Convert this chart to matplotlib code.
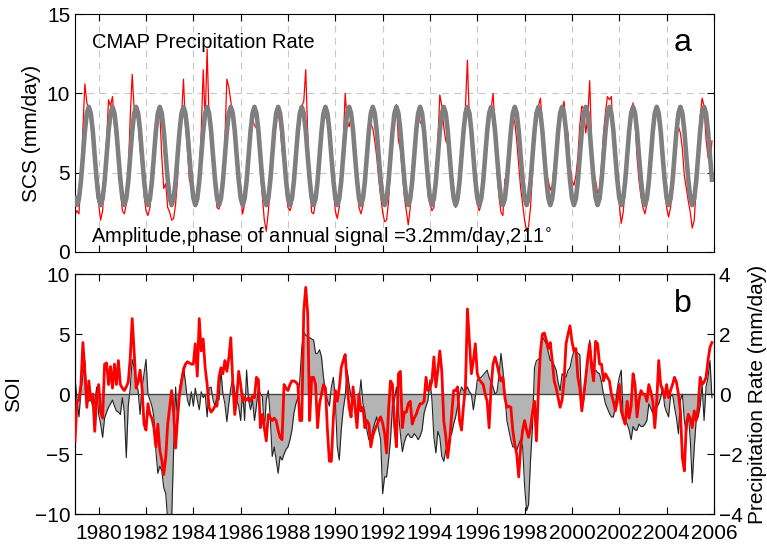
import numpy as np
import matplotlib
matplotlib.use("Agg")
import matplotlib.pyplot as plt

plt.rcParams['font.family'] = ['Liberation Sans', 'DejaVu Sans']

start_year = 1979
years = list(range(1979, 2006))

# SCS CMAP precipitation (mm/day), one row per year, Jan..Dec
precip = [
    [2.3, 2.6, 2.4, 4.5, 7.8, 10.6, 9.4, 9.0, 8.4, 7.2, 5.5, 3.6],    # 1979
    [3.0, 2.0, 2.6, 4.8, 7.0, 9.6, 9.2, 9.8, 8.0, 6.8, 6.6, 4.0],     # 1980
    [2.6, 2.4, 3.0, 5.0, 8.5, 11.2, 9.0, 8.8, 8.2, 6.5, 5.2, 3.6],    # 1981
    [2.6, 2.3, 2.8, 4.2, 6.5, 7.3, 8.4, 8.8, 6.0, 4.0, 4.3, 2.8],     # 1982
    [2.5, 2.0, 2.1, 3.0, 4.6, 7.6, 8.5, 10.9, 8.0, 6.5, 4.5, 4.3],    # 1983
    [3.8, 3.0, 3.2, 5.0, 7.5, 11.5, 8.3, 12.8, 8.2, 8.0, 6.0, 4.2],   # 1984
    [2.8, 2.7, 3.2, 4.5, 7.0, 10.9, 10.4, 9.5, 8.5, 7.6, 5.5, 4.5],   # 1985
    [3.5, 2.4, 3.0, 4.5, 6.0, 7.8, 8.3, 8.0, 7.8, 7.5, 5.0, 3.5],     # 1986
    [2.0, 1.3, 2.5, 4.0, 5.0, 7.7, 8.5, 8.8, 8.0, 6.4, 5.6, 3.8],     # 1987
    [2.8, 2.6, 3.0, 4.5, 6.5, 7.3, 8.2, 9.2, 9.5, 11.5, 7.5, 4.5],    # 1988
    [2.5, 2.4, 3.2, 4.8, 6.5, 7.5, 8.3, 8.5, 9.0, 7.5, 6.0, 4.0],     # 1989
    [2.6, 2.1, 2.8, 4.5, 6.8, 10.0, 8.3, 7.9, 8.5, 7.0, 5.5, 4.0],    # 1990
    [2.8, 2.4, 2.9, 4.0, 5.8, 7.0, 8.1, 7.8, 7.0, 6.0, 4.6, 3.5],     # 1991
    [2.5, 1.9, 2.0, 3.2, 5.5, 8.1, 9.0, 9.3, 7.0, 6.5, 5.0, 3.5],     # 1992
    [2.6, 1.7, 2.8, 4.2, 6.0, 7.5, 8.8, 8.2, 8.0, 7.0, 5.2, 3.6],     # 1993
    [3.0, 2.6, 2.8, 4.5, 7.0, 9.9, 9.2, 7.9, 7.0, 6.8, 5.3, 3.8],     # 1994
    [3.2, 2.8, 3.0, 4.2, 6.5, 8.0, 9.2, 12.1, 8.2, 7.0, 5.5, 3.8],    # 1995
    [3.0, 2.6, 3.0, 4.4, 6.2, 7.5, 8.5, 9.0, 10.0, 7.9, 5.0, 3.5],    # 1996
    [2.5, 2.3, 4.6, 4.0, 6.0, 7.5, 8.6, 8.2, 7.0, 5.5, 4.0, 3.0],     # 1997
    [2.0, 1.3, 1.6, 2.8, 5.0, 7.0, 8.0, 9.2, 9.7, 8.2, 7.0, 5.0],     # 1998
    [4.5, 3.9, 4.2, 5.5, 6.5, 7.5, 8.5, 9.0, 9.5, 7.9, 7.5, 5.5],     # 1999
    [4.5, 4.2, 4.8, 6.0, 8.0, 9.2, 9.0, 7.5, 8.5, 10.8, 6.8, 5.0],    # 2000
    [4.5, 3.7, 4.0, 5.5, 7.5, 8.8, 9.8, 9.6, 9.8, 7.0, 6.0, 4.5],     # 2001
    [3.0, 1.8, 2.5, 4.0, 6.5, 8.0, 8.8, 9.4, 8.2, 6.0, 4.5, 3.5],     # 2002
    [2.8, 2.4, 3.0, 4.5, 6.5, 7.8, 8.5, 8.7, 8.2, 7.0, 5.5, 4.0],     # 2003
    [2.8, 2.2, 2.8, 4.0, 6.0, 7.3, 7.9, 7.5, 6.5, 4.8, 4.0, 3.2],     # 2004
    [2.5, 1.5, 2.0, 4.0, 6.5, 8.5, 9.7, 9.2, 7.1, 6.0, 5.5, 7.0],     # 2005
]

# annual signal (mm/day), Jan..Dec, repeated every year
annual_signal = [3.4, 2.95, 3.35, 4.45, 6.0, 7.6, 8.75, 9.15, 8.75, 7.65, 6.05, 4.55]

# SOI, one row per year, Jan..Dec
soi = [
    [1.4, -0.5, -1.9, 0.2, 1.5, 2.8, -0.5, -0.6, -0.3, -1.1, -0.6, 0.6],
    [-1.7, -2.5, -3.6, -2.0, -1.5, -1.1, -0.8, -0.5, -1.0, -1.4, -1.5, -1.7],
    [-0.3, -1.5, -5.3, -1.0, 0.5, 2.9, 2.2, 1.0, 0.3, -1.7, 0.5, 1.7],
    [2.9, 0.0, -0.5, -1.0, -1.9, -4.7, -6.6, -6.0, -6.4, -7.8, -8.3, -10.5],
    [-10.5, -10.5, -4.7, 0.6, -2.4, 0.5, 1.4, 2.3, 1.0, -0.5, -1.0, 0.2],
    [-1.0, 0.5, -0.5, -1.3, 0.2, -0.3, 0.0, -1.9, 0.5, 0.6, -0.5, -1.0],
    [-0.2, -0.5, 2.0, 0.0, -0.8, -2.3, -0.8, 0.5, 1.3, 0.2, -0.5, -1.0],
    [-2.2, 0.2, -2.2, 2.0, -0.5, -1.3, -0.5, -2.2, -1.0, 0.6, 0.0, -0.2],
    [-3.0, -0.5, 0.3, -1.9, -5.2, -4.4, -5.5, -6.6, -5.2, -5.5, -5.0, -4.6],
    [-4.4, -3.8, -3.0, -1.6, -0.8, -0.3, 1.2, 3.9, 5.2, 4.9, 4.8, 4.7],
    [4.6, 4.5, 3.4, 3.4, 3.7, 3.1, 1.4, 0.2, -0.5, -1.0, 0.6, 1.4],
    [-0.5, -4.4, -5.5, -3.0, -1.3, -0.2, 2.0, 0.8, -0.3, -0.5, -0.8, -1.9],
    [-0.5, 1.2, -0.8, -1.5, -3.0, -3.8, -3.8, -3.0, -2.4, -1.9, -3.0, -3.8],
    [-8.3, -6.9, -6.9, -5.5, -3.8, -1.0, -0.5, 0.6, -1.5, -3.3, -4.8, -4.0],
    [-3.5, -3.3, -3.6, -3.6, -3.3, -3.5, -3.8, -3.5, -3.0, -1.6, -1.0, -0.5],
    [1.2, -0.5, -3.6, -4.9, -3.1, -3.6, -5.2, -5.6, -4.7, -4.2, -3.6, -3.3],
    [-2.5, -1.9, -1.0, 0.0, 0.6, 0.3, 0.3, 0.6, 0.2, 0.0, -1.3, -0.2],
    [1.2, 1.3, 1.4, 1.6, 1.8, 2.0, 1.4, 1.0, 0.6, 0.0, 0.2, 1.5],
    [3.4, 2.0, 0.0, -2.2, -3.0, -3.8, -4.4, -4.4, -4.7, -4.2, -3.8, -4.4],
    [-7.7, -9.7, -9.2, -5.5, -2.7, 2.2, 2.8, 2.9, 3.1, 4.8, 4.5, 4.2],
    [3.5, 2.8, 2.8, 2.4, 2.0, 1.0, 0.3, 1.7, 1.5, 1.4, 2.0, 2.2],
    [3.0, 3.6, 3.6, 3.4, 3.3, -1.3, -0.5, 1.0, 2.8, 4.5, 2.8, 2.0],
    [2.0, 1.8, 1.7, 1.0, 0.0, -0.8, -1.2, -1.6, -1.9, -1.9, -1.1, 0.5],
    [1.4, 2.0, -1.9, -2.2, -2.5, -3.0, -3.8, -2.7, -3.0, -3.0, -2.5, -2.7],
    [-2.7, -2.5, -2.2, -0.8, -1.2, -1.6, -1.1, -1.1, -0.8, -0.3, 0.6, -1.0],
    [-1.5, -1.9, -0.2, 0.0, -1.1, -2.0, -3.3, -0.5, 0.0, -2.2, -3.3, -1.6],
    [-3.8, -7.4, -4.5, -2.2, -1.9, -1.0, 0.8, -2.2, 0.6, 1.4, 2.8, -0.3],
]

# precipitation anomaly (mm/day), one row per year, Jan..Dec
precip_anom = [
    [-1.56, -0.24, -0.2, 0.32, 1.72, 0.76, -0.44, 0.44, -0.2, 0.0, -1.24, -0.12],
    [0.32, -0.6, -0.8, 1.0, 1.04, 0.32, 0.92, 0.2, 1.0, 0.32, 1.12, 0.32],
    [0.2, 0.12, 0.24, 0.4, 1.2, 2.52, 1.4, 0.2, 0.4, 0.8, 0.2, -1.0],
    [-1.2, -0.32, -0.68, -0.8, -1.12, -1.76, -1.0, -1.88, -2.2, -2.68, -2.12, -1.0],
    [-0.44, 0.12, -0.6, -1.8, -0.8, 0.0, 0.4, 0.8, 1.0, 1.08, 1.04, 1.0],
    [1.0, 1.68, 0.6, 2.52, 1.44, 1.84, 0.88, 0.32, -0.44, -0.6, -0.52, -0.4],
    [-0.4, 0.56, 0.88, 0.68, 1.12, 0.76, 1.2, 1.88, 0.4, -0.68, -0.12, 0.76],
    [0.32, -0.24, -0.12, -0.2, -0.12, -0.24, -0.08, -0.12, 0.56, 0.48, -1.12, -0.68],
    [-1.12, -1.56, -0.68, -0.8, -0.88, -0.8, -0.88, -1.2, -1.44, -1.52, 0.32, 0.2],
    [0.12, 0.32, 0.44, 0.44, 0.4, 0.32, -0.88, -0.88, 2.76, 3.56, 2.68, -0.88],
    [0.56, 0.56, 0.32, -1.12, -0.32, 0.0, 0.32, 0.2, -1.2, -2.24, -2.24, -0.8],
    [0.12, -0.24, 0.2, 0.88, 1.12, 1.32, 0.32, -0.44, -0.76, 0.24, -0.44, -1.12],
    [0.0, -0.56, -0.44, -1.12, -0.88, -1.0, -1.76, -1.4, -1.2, -1.04, -0.88, -0.76],
    [-0.96, -1.32, -1.96, -0.52, 0.44, 0.32, -1.0, -1.76, 0.68, 0.76, -1.12, -0.6],
    [-0.6, -0.32, -0.24, -1.0, -0.8, -0.68, -0.48, -0.32, -0.32, -0.24, 0.56, 0.12],
    [0.2, 0.44, 1.24, 0.24, 0.8, 1.44, 0.76, -0.88, -1.4, -2.12, -1.56, -0.68],
    [0.12, 0.12, 0.24, -0.88, -1.2, -0.4, 0.24, 2.84, 1.76, 0.68, 1.12, 1.68],
    [0.68, 0.48, 0.4, 0.32, 0.0, -0.24, -1.12, 0.24, 1.0, 1.24, 1.0, 0.68],
    [0.44, 0.56, -0.12, -0.44, -0.4, -0.44, -1.2, -1.68, -2.0, -2.76, -1.76, -1.2],
    [-0.88, -1.2, -1.44, -1.12, -0.6, -0.24, -1.56, 0.12, 1.4, 2.0, 2.04, 1.8],
    [1.52, 1.72, 1.12, 0.44, 0.2, -0.12, -0.44, -0.2, 0.44, 1.68, 2.0, 2.28],
    [1.76, 1.44, 1.52, 0.56, 0.2, -0.56, 0.0, 0.56, 1.2, 1.68, 0.88, 0.44],
    [1.76, 1.68, 1.0, 1.0, 0.44, 0.68, 0.56, 0.44, 0.0, -0.24, -0.56, -0.24],
    [0.32, -0.56, -0.8, -1.0, -0.24, -0.8, -0.4, 0.68, 0.32, -0.76, -0.2, 0.12],
    [0.0, 0.0, -0.24, 0.32, 0.08, -0.24, -1.12, -0.24, 1.12, 0.32, 0.12, -0.12],
    [0.32, -0.12, 0.12, 0.32, 0.56, 0.4, 0.0, -0.56, -2.12, -2.56, -1.0, -0.68],
    [-0.8, -1.12, -0.56, -0.88, -0.44, 0.56, 0.32, 0.4, 0.56, 1.12, 1.56, 1.72],
]

year_ticks = list(range(1980, 2007, 2))

# flatten monthly series
pr = np.concatenate(precip)
sig = np.tile(annual_signal, len(years))
so = np.concatenate(soi)
pa = np.concatenate(precip_anom)
t = start_year + np.arange(len(pr)) / 12.0

fig = plt.figure(figsize=(7.67, 5.44), dpi=100)
ax1 = fig.add_axes([0.0978, 0.537, 0.833, 0.437])
ax2 = fig.add_axes([0.0978, 0.055, 0.833, 0.441])

fs = 15

# ---- panel a ----
for yr in year_ticks:
    ax1.axvline(yr, color='#c8c8c8', lw=0.8, ls=(0, (6, 5)), zorder=0)
for yv in [5, 10]:
    ax1.axhline(yv, color='#c8c8c8', lw=0.8, ls=(0, (6, 5)), zorder=0)
ax1.plot(t, pr, color='red', lw=0.9, zorder=2)
ax1.plot(t, sig, color='#7f7f7f', lw=3.3, zorder=3)
ax1.set_xlim(1979, 2006)
ax1.set_ylim(0, 15)
ax1.set_yticks([0, 5, 10, 15])
ax1.set_xticks(year_ticks)
ax1.set_xticklabels([])
ax1.tick_params(direction='in', top=True, right=True, labelsize=fs, length=5)
ax1.set_ylabel('SCS (mm/day)', fontsize=fs, labelpad=4)
ax1.text(0.027, 0.88, 'CMAP Precipitation Rate', transform=ax1.transAxes,
         fontsize=14.5, va='center')
ax1.text(0.965, 0.88, 'a', transform=ax1.transAxes, fontsize=23,
         ha='right', va='center')
ax1.text(0.025, 0.065, 'Amplitude,phase of annual signal =3.2mm/day,211$^{\\circ}$',
         transform=ax1.transAxes, fontsize=14.5, va='center')

# ---- panel b ----
ax2.fill_between(t, so, 0, color='#b4b4b4', lw=0, zorder=1)
ax2.plot(t, so, color='#222222', lw=0.8, zorder=2)
ax2.axhline(0, color='#444444', lw=1.0, zorder=2)
ax2.set_xlim(1979, 2006)
ax2.set_ylim(-10, 10)
ax2.set_yticks([-10, -5, 0, 5, 10])
ax2.set_xticks(year_ticks)
ax2.tick_params(direction='in', top=True, labelsize=fs, length=5)
ax2.tick_params(axis='x', pad=7)
ax2.set_ylabel('SOI', fontsize=fs, labelpad=8)
ax2.text(0.965, 0.875, 'b', transform=ax2.transAxes, fontsize=23,
         ha='right', va='center')

ax3 = ax2.twinx()
ax3.plot(t, pa, color='red', lw=2.0, zorder=3)
ax3.set_ylim(-4, 4)
ax3.set_yticks([-4, -2, 0, 2, 4])
ax3.tick_params(direction='in', labelsize=fs, length=5)
ax3.set_ylabel('Precipitation Rate (mm/day)', fontsize=fs, labelpad=4)

fig.savefig('out.png', dpi=100)
